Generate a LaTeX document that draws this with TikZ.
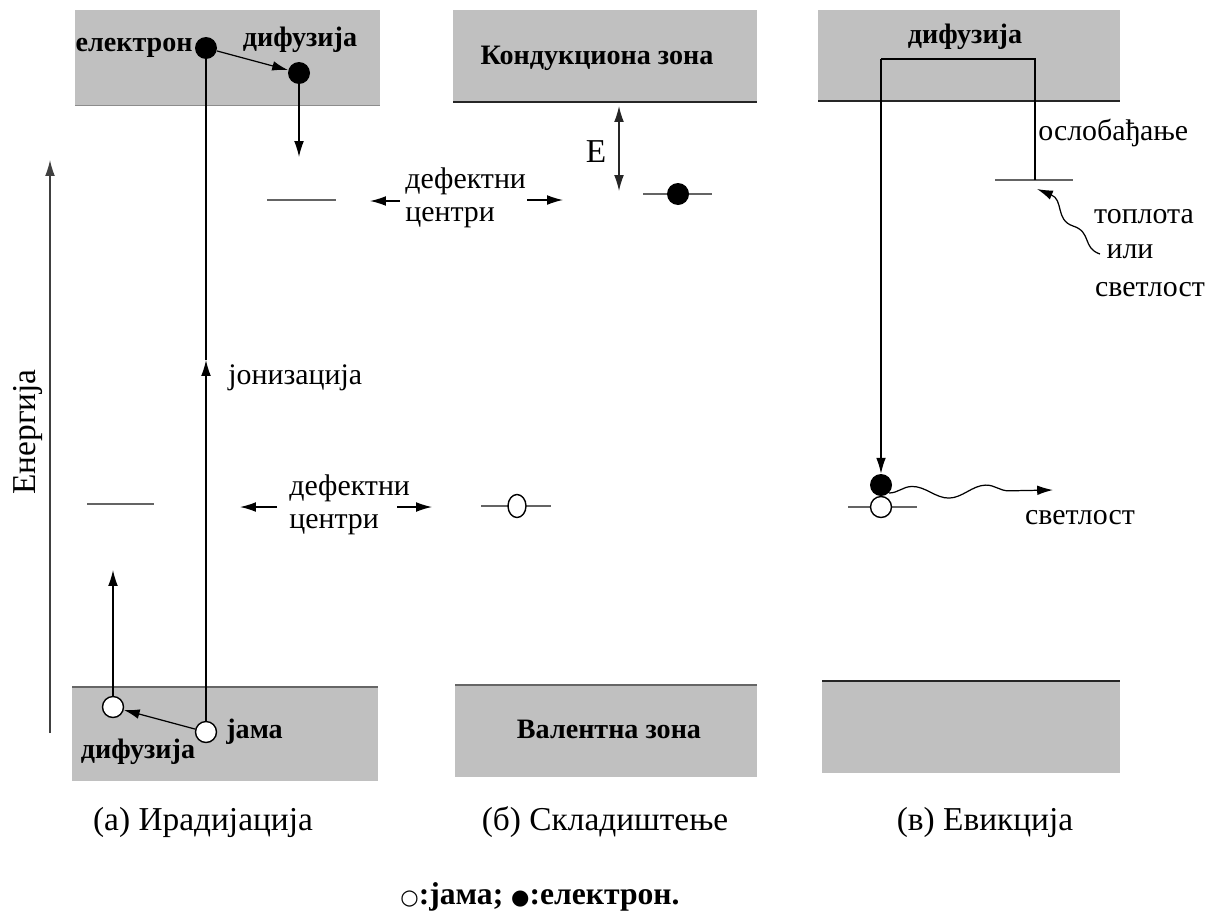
\documentclass[tikz,border=0pt]{standalone}
\usepackage{fontspec}
\setmainfont{Liberation Serif}
\newfontfamily\symfont{DejaVu Sans}
\usetikzlibrary{positioning,shapes.geometric,arrows.meta,decorations.pathmorphing}
\definecolor{bandgray}{RGB}{192,192,192}
\definecolor{levelgray}{RGB}{100,100,100}

\begin{document}
\begin{tikzpicture}[x=0.02cm,y=-0.02cm,
    band/.style={fill=bandgray},
    edge/.style={line width=1pt,black!85},
    level/.style={line width=0.8pt,levelgray},
    elec/.style={circle,fill=black,inner sep=0pt,minimum size=0.44cm},
    hole/.style={circle,draw,fill=white,line width=0.8pt,inner sep=0pt,minimum size=0.42cm},
    conn/.style={-{Latex[length=9pt,width=5.5pt]},line width=0.7pt},
    txt/.style={font=\fontsize{17}{19}\selectfont,inner sep=0pt},
    captxt/.style={font=\fontsize{19}{22}\selectfont,inner sep=0pt},
    bold/.style={font=\fontsize{16}{19}\selectfont\bfseries,inner sep=0pt}]

      \useasboundingbox (0,0) rectangle (1216,913);

      % bands
      \fill[band] (75,10) rectangle (380,105);
      \draw[black!45] (75,105) -- (380,105);
      \fill[band] (453,10) rectangle (757,102);
      \draw[edge] (453,102) -- (757,102);
      \fill[band] (818,10) rectangle (1120,101);
      \draw[edge] (818,101) -- (1120,101);
      \fill[band] (72,687) rectangle (378,781);
      \draw[edge,black!60] (72,687) -- (378,687);
      \fill[band] (455,685) rectangle (757,777);
      \draw[edge,black!60] (455,685) -- (757,685);
      \fill[band] (822,681) rectangle (1120,773);
      \draw[edge] (822,681) -- (1120,681);

      % energy axis
      \coordinate (en0) at (50,733);
      \coordinate (en1) at (50,160);
      \draw[conn,black!75] (en0) -- (en1);
      \node[captxt,rotate=90] (enLbl) at (28,432) {Енергија};

      % (a) irradiation
      \node[elec] (e1) at (206,48) {};
      \node[elec] (e2) at (299,73) {};
      \node[bold,left=1pt of e1] (elecLbl) {електрон};
      \node[bold] (difA) at (300,40) {дифузија};
      \draw[conn] (e1) -- (e2);
      \coordinate (e2end) at (299,157);
      \draw[conn] (e2) -- (e2end);

      \node[hole] (h1) at (206,732) {};
      \node[hole] (h2) at (113,707) {};
      \node[bold,right=5pt of h1] (jamaLbl) {јама};
      \node[bold] (difB) at (138,752) {дифузија};
      \draw[conn] (h1) -- (h2);
      \coordinate (h2end) at (113,570);
      \draw[conn] (h2) -- (h2end);

      \coordinate (ion) at (206,360);
      \draw[conn] (h1) -- (ion);
      \draw[line width=0.7pt] (ion) -- (e1);
      \node[txt,anchor=west] (ionLbl) at (228,378) {јонизација};

      \draw[level] (267,200) -- (336,200);
      \node[txt,align=left,anchor=west] (defA) at (405,198) {дефектни\\центри};
      \coordinate (dAl0) at (400,201);
      \coordinate (dAl1) at (370,201);
      \coordinate (dAr0) at (527,200);
      \coordinate (dAr1) at (563,200);
      \draw[conn] (dAl0) -- (dAl1);
      \draw[conn] (dAr0) -- (dAr1);

      \draw[level] (87,504) -- (154,504);
      \node[txt,align=left,anchor=west] (defB) at (289,505) {дефектни\\центри};
      \coordinate (dBl0) at (277,507);
      \coordinate (dBl1) at (240,507);
      \coordinate (dBr0) at (397,507);
      \coordinate (dBr1) at (432,507);
      \draw[conn] (dBl0) -- (dBl1);
      \draw[conn] (dBr0) -- (dBr1);

      % (b) storage
      \node[bold] (kond) at (597,58) {Кондукциона зона};
      \coordinate (Etop) at (619,106);
      \coordinate (Ebot) at (619,191);
      \draw[{Latex[length=9pt,width=5.5pt]}-{Latex[length=9pt,width=5.5pt]},line width=0.7pt,black!85] (Etop) -- (Ebot);
      \node[captxt] (Elbl) at (596,152) {E};
      \draw[level] (643,194) -- (712,194);
      \node[elec] (e3) at (678,194) {};
      \draw[level] (481,506) -- (551,506);
      \node[draw,ellipse,fill=white,line width=0.8pt,inner sep=0pt,minimum width=0.36cm,minimum height=0.46cm] (h3) at (517,506) {};
      \node[bold] (val) at (609,729) {Валентна зона};

      % (c) eviction
      \node[bold] (difC) at (965,37) {дифузија};
      \coordinate (rel) at (1035,180);
      \coordinate (c1) at (1035,59);
      \coordinate (c2) at (881,59);
      \draw[level] (995,180) -- (1073,180);
      \draw[level] (848,507) -- (917,507);
      \node[hole] (h4) at (881,507) {};
      \node[elec] (e4) at (881,485) {};
      \draw[line width=0.7pt] (rel) -- (c1) -- (c2);
      \draw[conn] (c2) -- (e4);
      \node[txt,anchor=west] (oslLbl) at (1038,133) {ослобађање};

      \coordinate (hw0) at (1100,254);
      \coordinate (hw1) at (1037,189);
      \draw[conn] (hw0) .. controls (1082,248) and (1092,232) .. (1073,226)
        .. controls (1055,220) and (1064,200) .. (hw1);
      \node[txt] (topl) at (1144,217) {топлота};
      \node[txt] (ili) at (1130,252) {или};
      \node[txt] (svet1) at (1150,290) {светлост};

      \coordinate (lw1) at (1053,490);
      \draw[conn,decorate,decoration={snake,amplitude=3.5pt,segment length=42pt,post length=9pt}] (e4.south east) -- (lw1);
      \node[txt] (svet2) at (1080,518) {светлост};

      % captions
      \node[captxt] (capA) at (203,822) {(а) Ирадијација};
      \node[captxt] (capB) at (605,822) {(б) Складиштење};
      \node[captxt] (capC) at (985,822) {(в) Евикција};
      \node[bold,font=\fontsize{18}{21}\selectfont\bfseries] (legend) at (540,897) {{\symfont\mdseries\fontsize{12}{15}\selectfont ○}:јама; {\symfont\fontsize{12}{15}\selectfont ●}:електрон.};
\end{tikzpicture}
\end{document}
